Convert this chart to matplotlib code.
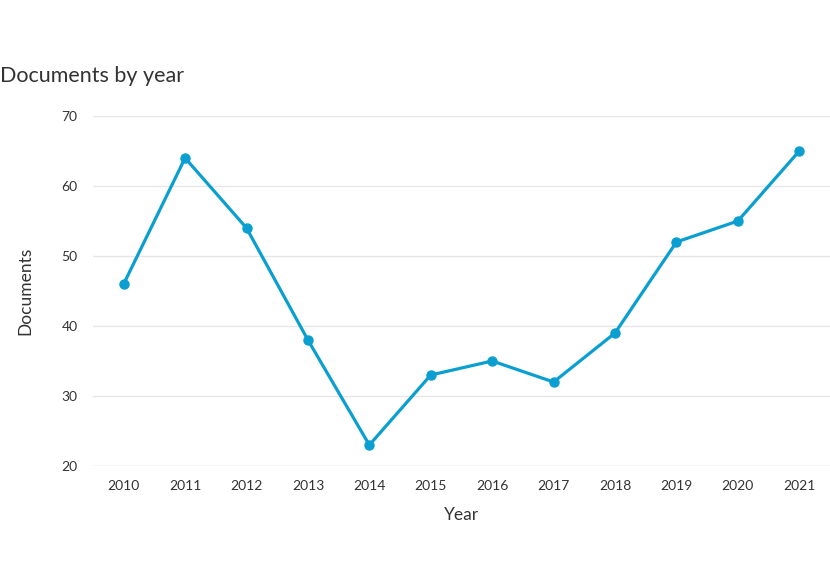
import matplotlib.pyplot as plt

years = ['2010', '2011', '2012', '2013', '2014', '2015',
         '2016', '2017', '2018', '2019', '2020', '2021']
documents = [46, 64, 54, 38, 23, 33, 35, 32, 39, 52, 55, 65]
y_ticks = [20, 30, 40, 50, 60, 70]

plt.rcParams['font.family'] = ['Lato', 'DejaVu Sans']

fig = plt.figure(figsize=(8.3, 5.87), dpi=100)
ax = fig.add_axes([0.112, 0.2061, 0.888, 0.5963])

xs = list(range(len(years)))
ax.plot(xs, documents, color='#0a9fd0', linewidth=2.3,
        marker='o', markersize=6.5, zorder=3)

ax.set_xlim(-0.5, len(years) - 0.5)
ax.set_ylim(20, 70)
ax.set_xticks(xs)
ax.set_xticklabels(years)
ax.set_yticks(y_ticks)

# gridlines only, no frame
for y in y_ticks:
    col = '#ccd6eb' if y == 20 else '#e6e6e6'
    ax.axhline(y, color=col, linewidth=1, zorder=1)
for s in ax.spines.values():
    s.set_visible(False)
ax.tick_params(axis='both', length=0, labelsize=10, labelcolor='#333333')
ax.tick_params(axis='x', pad=10)
ax.tick_params(axis='y', pad=11)

ax.set_xlabel('Year', fontsize=12.5, color='#333333', labelpad=11)
ax.set_ylabel('Documents', fontsize=12.5, color='#333333', labelpad=20)

fig.text(0.0, 0.87, 'Documents by year', fontsize=15.5, color='#333333',
         ha='left', va='center')

fig.savefig('out.png', dpi=100)
